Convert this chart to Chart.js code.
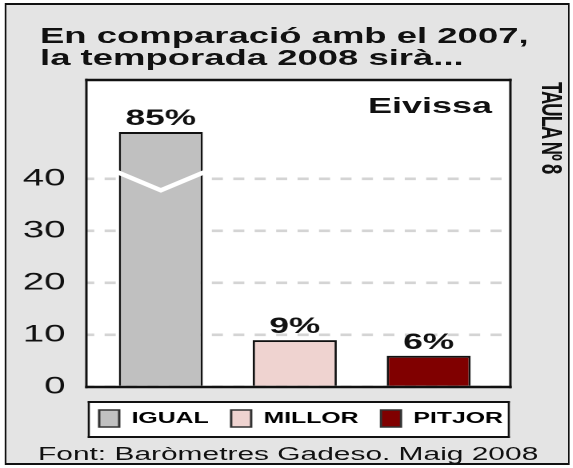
<!DOCTYPE html>
<html lang="ca">
<head>
<meta charset="utf-8">
<title>Temporada 2008 - Eivissa</title>
<script src="https://cdn.jsdelivr.net/npm/chart.js@4.4.1/dist/chart.umd.min.js"></script>
<style>
  html, body { margin: 0; padding: 0; background: #fff; }
  body { width: 573px; height: 468px; overflow: hidden; position: relative; }
  /* el full es dibuixa a 358px d'ample i s'estira en horitzontal, com l'original */
  #full {
    position: absolute; left: 0; top: 0;
    width: 358px; height: 468px;
    transform: scaleX(1.6); transform-origin: 0 0;
    font-family: 'Liberation Sans', Arial, sans-serif; color: #111;
  }
  #marc {
    position: absolute; left: 3px; top: 3px; right: 1.75px; bottom: 3px;
    background: #e4e4e4;
    border-style: solid; border-color: #111;
    border-width: 2.5px 1.5px;
  }
  #grafic { position: absolute; left: 0; top: 0; }
  #titol {
    position: absolute; left: 25px; top: 24px;
    font-weight: bold; font-size: 22.8px; line-height: 22px;
    white-space: nowrap;
  }
  #illa {
    position: absolute; right: 50.5px; top: 95px;
    font-weight: bold; font-size: 22.5px; line-height: 22px;
  }
  #taula {
    position: absolute; left: 334.5px; top: 82px;
    writing-mode: vertical-rl;
    font-weight: bold; font-size: 18.5px; line-height: 20px;
    letter-spacing: -1px; white-space: nowrap;
  }
  #font {
    position: absolute; left: 23.75px; top: 444px;
    font-size: 18.7px; line-height: 20px; white-space: nowrap;
  }
</style>
</head>
<body>
<div id="full">
  <div id="marc"></div>
  <canvas id="grafic" width="358" height="468"></canvas>
  <div id="titol">En comparació amb el 2007,<br>la temporada 2008 sirà...</div>
  <div id="illa">Eivissa</div>
  <div id="taula">TAULA Nº 8</div>
  <div id="font">Font: Baròmetres Gadeso. Maig 2008</div>
</div>
<script>
const categories = ['IGUAL', 'MILLOR', 'PITJOR'];
const valors = [85, 9, 6];
const marquesY = [0, 10, 20, 30, 40];

const colorsBarres = ['#c0c0c0', '#efd3d0', '#800000'];
const NEGRE = '#111';

// eix trencat: la barra que passa d'aquí es talla a aquesta alçada
const TALL = 49;
const TRENCAT_VORA = 41.3;
const TRENCAT_MIG = 37.8;

Chart.defaults.font.family = '"Liberation Sans", Arial, sans-serif';
Chart.defaults.color = NEGRE;

function vores(ctx, l, t, r, b, gh, gv) {
  ctx.fillStyle = NEGRE;
  ctx.fillRect(l - gv / 2, t - gh / 2, r - l + gv, gh);
  ctx.fillRect(l - gv / 2, b - gh / 2, r - l + gv, gh);
  ctx.fillRect(l - gv / 2, t - gh / 2, gv, b - t + gh);
  ctx.fillRect(r - gv / 2, t - gh / 2, gv, b - t + gh);
}

const fonsIVores = {
  id: 'fonsIVores',
  afterLayout(chart) {
    // la llegenda va just sota el marc del gràfic
    chart.legend.left = chart.chartArea.left - 6;
    chart.legend.right = chart.chartArea.right + 20;
  },
  beforeDraw(chart) {
    const { ctx, chartArea: a, legend } = chart;
    ctx.save();
    ctx.fillStyle = '#fff';
    ctx.fillRect(a.left, a.top, a.right - a.left, a.bottom - a.top);
    // caixa de la llegenda
    const hb = legend.legendHitBoxes[0];
    const t = hb.top - 8, b = hb.top + hb.height + 10;
    const l = a.left + 1.5, r = a.right - 1;
    ctx.fillStyle = '#fff';
    ctx.fillRect(l, t, r - l, b - t);
    vores(ctx, l, t, r, b, 2, 1.3);
    ctx.restore();
  },
  afterDatasetsDraw(chart) {
    const { ctx, chartArea: a, scales: { y } } = chart;
    const barres = chart.getDatasetMeta(0).data;
    ctx.save();
    // marca de tall
    barres.forEach((bar, i) => {
      if (valors[i] <= TALL) return;
      const m = bar.width / 2 + 1;
      ctx.strokeStyle = '#fff';
      ctx.lineWidth = 4;
      ctx.beginPath();
      ctx.moveTo(bar.x - m, y.getPixelForValue(TRENCAT_VORA));
      ctx.lineTo(bar.x, y.getPixelForValue(TRENCAT_MIG));
      ctx.lineTo(bar.x + m, y.getPixelForValue(TRENCAT_VORA));
      ctx.stroke();
    });
    // percentatges
    ctx.fillStyle = NEGRE;
    ctx.font = 'bold 22px "Liberation Sans", Arial, sans-serif';
    ctx.textAlign = 'center';
    ctx.textBaseline = 'alphabetic';
    barres.forEach((bar, i) => ctx.fillText(valors[i] + '%', bar.x, bar.y - 7));
    // marc del grafic
    vores(ctx, a.left, a.top, a.right, a.bottom, 2.5, 1.5);
    ctx.restore();
  }
};

new Chart(document.getElementById('grafic'), {
  type: 'bar',
  data: {
    labels: categories,
    datasets: [{
      data: valors.map((v, i) => ({ x: i, y: Math.min(v, TALL) })),
      backgroundColor: colorsBarres,
      borderColor: NEGRE,
      borderWidth: { top: 2, left: 1.4, right: 1.4, bottom: 0 },
      borderSkipped: false,
      barPercentage: 0.627,
      categoryPercentage: 1
    }]
  },
  options: {
    responsive: false,
    devicePixelRatio: 2,
    animation: false,
    layout: { padding: { left: 14, right: 39, top: 80, bottom: 31 } },
    plugins: {
      legend: {
        position: 'bottom',
        align: 'start',
        onClick: null,
        labels: {
          boxWidth: 12.5,
          boxHeight: 17,
          padding: 14,
          color: NEGRE,
          font: { size: 15.5, weight: 'bold' },
          generateLabels: () => categories.map((c, i) => ({
            text: c,
            fillStyle: colorsBarres[i],
            strokeStyle: '#333',
            lineWidth: 1.5,
            hidden: false,
            index: i
          }))
        }
      },
      tooltip: { enabled: false }
    },
    scales: {
      x: {
        type: 'linear',
        min: -0.556,
        max: 2.61,
        offset: false,
        afterBuildTicks: s => { s.ticks = categories.map((c, i) => ({ value: i })); },
        grid: { display: false },
        border: { display: false },
        ticks: { display: false },
        afterFit: s => { s.height = 9; }
      },
      y: {
        min: 0,
        max: 59,
        afterBuildTicks: s => { s.ticks = marquesY.map(v => ({ value: v })); },
        afterFit: s => { s.width = 40; },
        grid: { color: '#d4d4d4', lineWidth: 2.6, drawTicks: false },
        border: { display: false, dash: [6.9, 6.5], dashOffset: 2 },
        ticks: { padding: 13, color: NEGRE, font: { size: 24 } }
      }
    }
  },
  plugins: [fonsIVores]
});
</script>
</body>
</html>
